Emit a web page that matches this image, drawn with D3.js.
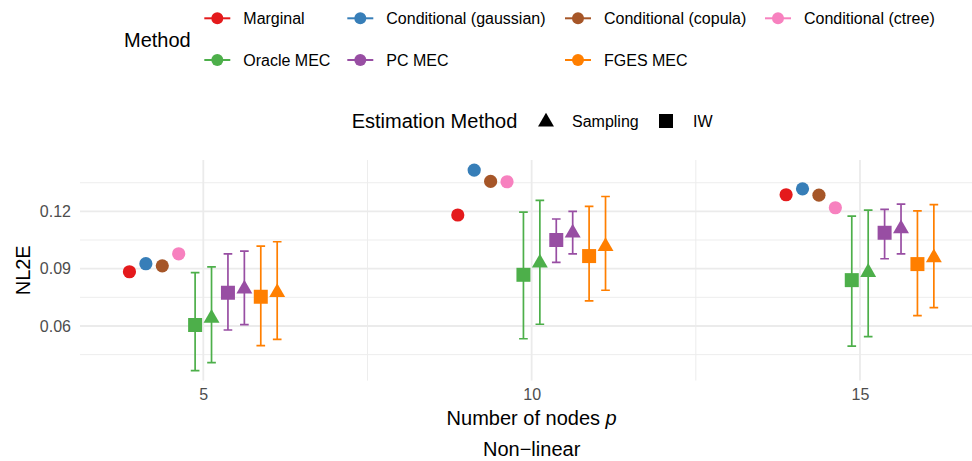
<!DOCTYPE html>
<html>
<head>
<meta charset="utf-8">
<script src="https://cdn.jsdelivr.net/npm/d3@7"></script>
<style>
  html, body { margin: 0; padding: 0; background: #fff; }
  svg { display: block; font-family: "Liberation Sans", Arial, Helvetica, sans-serif; }
</style>
</head>
<body>
<svg id="chart" width="972" height="461"></svg>
<script>
// Number of nodes p (one panel group per value)
const nodes = [5, 10, 15];

// Methods and their Set1 colours
const methods = ["Marginal", "Conditional (gaussian)", "Conditional (copula)", "Conditional (ctree)",
                 "Oracle MEC", "PC MEC", "FGES MEC"];
const colors = ["#E41A1C", "#377EB8", "#A65628", "#F781BF", "#4DAF4A", "#984EA3", "#FF7F00"];

// Point-only methods: NL2E per p
const marginal = [0.0884, 0.1181, 0.1287];
const condGaussian = [0.0926, 0.1416, 0.1318];
const condCopula = [0.0915, 0.1357, 0.1285];
const condCtree = [0.0978, 0.1355, 0.1219];

// MEC methods: mean NL2E with lower / upper interval, per p
const oracleIW = [0.0605, 0.0868, 0.0840];
const oracleIWLo = [0.0366, 0.0533, 0.0495];
const oracleIWHi = [0.0879, 0.1196, 0.1175];
const oracleSamp = [0.0641, 0.0930, 0.0881];
const oracleSampLo = [0.0408, 0.0609, 0.0544];
const oracleSampHi = [0.0909, 0.1258, 0.1207];

const pcIW = [0.0774, 0.1050, 0.1088];
const pcIWLo = [0.0579, 0.0933, 0.0952];
const pcIWHi = [0.0977, 0.1160, 0.1210];
const pcSamp = [0.0794, 0.1087, 0.1109];
const pcSampLo = [0.0607, 0.0977, 0.0977];
const pcSampHi = [0.0992, 0.1200, 0.1238];

const fgesIW = [0.0753, 0.0966, 0.0924];
const fgesIWLo = [0.0497, 0.0731, 0.0654];
const fgesIWHi = [0.1018, 0.1226, 0.1203];
const fgesSamp = [0.0776, 0.1017, 0.0958];
const fgesSampLo = [0.0530, 0.0787, 0.0696];
const fgesSampHi = [0.1041, 0.1278, 0.1235];

// Axis ticks
const yTicks = [0.06, 0.09, 0.12];
const yMinor = [0.045, 0.075, 0.105, 0.135];
const xMinor = [7.5, 12.5];

// Build a long table: one row per mark
const series = [
  { m: 0, est: null, v: marginal },
  { m: 1, est: null, v: condGaussian },
  { m: 2, est: null, v: condCopula },
  { m: 3, est: null, v: condCtree },
  { m: 4, est: "IW", v: oracleIW, lo: oracleIWLo, hi: oracleIWHi },
  { m: 4, est: "Sampling", v: oracleSamp, lo: oracleSampLo, hi: oracleSampHi },
  { m: 5, est: "IW", v: pcIW, lo: pcIWLo, hi: pcIWHi },
  { m: 5, est: "Sampling", v: pcSamp, lo: pcSampLo, hi: pcSampHi },
  { m: 6, est: "IW", v: fgesIW, lo: fgesIWLo, hi: fgesIWHi },
  { m: 6, est: "Sampling", v: fgesSamp, lo: fgesSampLo, hi: fgesSampHi }
];
const dodgeStep = 0.25;
const rows = [];
series.forEach((s, si) => {
  const off = (si - (series.length - 1) / 2) * dodgeStep;
  nodes.forEach((p, i) => {
    rows.push({
      p, x: p + off, y: s.v[i],
      lo: s.lo ? s.lo[i] : null, hi: s.hi ? s.hi[i] : null,
      color: colors[s.m], est: s.est
    });
  });
});

const svg = d3.select("#chart");

// Panel geometry
const panel = { left: 80, right: 983.3, top: 160, bottom: 380.6 };
const x = d3.scaleLinear().domain([3.122, 16.878]).range([panel.left, panel.right]);
const y = d3.scaleLinear().domain([0.0314, 0.1469]).range([panel.bottom, panel.top]);

const grid = svg.append("g");
// minor grid
grid.selectAll(".ymin").data(yMinor).join("line")
  .attr("x1", panel.left).attr("x2", panel.right)
  .attr("y1", d => y(d)).attr("y2", d => y(d))
  .attr("stroke", "#ededed").attr("stroke-width", 1);
grid.selectAll(".xmin").data(xMinor).join("line")
  .attr("y1", panel.top).attr("y2", panel.bottom)
  .attr("x1", d => x(d)).attr("x2", d => x(d))
  .attr("stroke", "#ededed").attr("stroke-width", 1);
// major grid
grid.selectAll(".ymaj").data(yTicks).join("line")
  .attr("x1", panel.left).attr("x2", panel.right)
  .attr("y1", d => y(d)).attr("y2", d => y(d))
  .attr("stroke", "#ebebeb").attr("stroke-width", 1.8);
grid.selectAll(".xmaj").data(nodes).join("line")
  .attr("y1", panel.top).attr("y2", panel.bottom)
  .attr("x1", d => x(d)).attr("x2", d => x(d))
  .attr("stroke", "#ebebeb").attr("stroke-width", 1.8);

// Axes (text only, no domain lines or tick marks)
const yAxis = svg.append("g").attr("transform", `translate(${panel.left - 9},0)`)
  .call(d3.axisLeft(y).tickValues(yTicks).tickSize(0).tickPadding(0).tickFormat(d3.format(".2f")));
yAxis.select(".domain").remove();
yAxis.selectAll("text").attr("fill", "#4d4d4d").attr("font-size", 16)
  .attr("font-family", "Liberation Sans, Arial, sans-serif");

const xAxis = svg.append("g").attr("transform", `translate(0,${panel.bottom + 8})`)
  .call(d3.axisBottom(x).tickValues(nodes).tickSize(0).tickPadding(0).tickFormat(d3.format("d")));
xAxis.select(".domain").remove();
xAxis.selectAll("text").attr("fill", "#4d4d4d").attr("font-size", 16)
  .attr("font-family", "Liberation Sans, Arial, sans-serif").attr("dy", "0.71em");

// Axis titles
const xMid = (panel.left + panel.right) / 2;
const xt = svg.append("text").attr("x", xMid).attr("y", 425).attr("text-anchor", "middle")
  .attr("font-size", 20).attr("fill", "#000");
xt.append("tspan").text("Number of nodes ");
xt.append("tspan").attr("font-style", "italic").text("p");
svg.append("text").attr("x", xMid).attr("y", 456).attr("text-anchor", "middle")
  .attr("font-size", 20).attr("fill", "#000").text("Non\u2212linear");
svg.append("text").attr("transform", `translate(30,${(panel.top + panel.bottom) / 2}) rotate(-90)`)
  .attr("text-anchor", "middle").attr("font-size", 20).attr("fill", "#000").text("NL2E");

// Marks
const plot = svg.append("g");
const capHalf = 0.066;
const eb = rows.filter(d => d.lo !== null);
plot.selectAll(".eb").data(eb).join("path")
  .attr("d", d => {
    const xl = x(d.x - capHalf), xr = x(d.x + capHalf), xc = x(d.x);
    return `M${xl},${y(d.hi)}H${xr}M${xc},${y(d.hi)}V${y(d.lo)}M${xl},${y(d.lo)}H${xr}`;
  })
  .attr("fill", "none").attr("stroke", d => d.color).attr("stroke-width", 1.7);

const circleR = 6.6, squareSide = 14, triR = 9.2;
function triPath(cx, cy, r) {
  const hx = r * Math.sqrt(3) / 2;
  return `M${cx},${cy - r}L${cx + hx},${cy + r / 2}L${cx - hx},${cy + r / 2}Z`;
}
plot.selectAll(".pt").data(rows).join("path")
  .attr("d", d => {
    const cx = x(d.x), cy = y(d.y);
    if (d.est === "IW") return `M${cx - squareSide / 2},${cy - squareSide / 2}h${squareSide}v${squareSide}h${-squareSide}Z`;
    if (d.est === "Sampling") return triPath(cx, cy, triR);
    return d3.symbol(d3.symbolCircle, Math.PI * circleR * circleR)();
  })
  .attr("transform", d => d.est === null ? `translate(${x(d.x)},${y(d.y)})` : null)
  .attr("fill", d => d.color);

// Method legend
const legM = svg.append("g");
legM.append("text").attr("x", 124).attr("y", 46.5).attr("font-size", 20).attr("fill", "#000").text("Method");
const colX = [217.3, 360.3, 578, 778];
const rowY = [18.3, 60];
const legendPos = [[0, 0], [1, 0], [2, 0], [3, 0], [0, 1], [1, 1], [2, 1]];
methods.forEach((name, i) => {
  const [c, r] = legendPos[i];
  const cx = colX[c], cy = rowY[r];
  const g = legM.append("g");
  g.append("line").attr("x1", cx - 13).attr("x2", cx + 13).attr("y1", cy).attr("y2", cy)
    .attr("stroke", colors[i]).attr("stroke-width", 2);
  g.append("circle").attr("cx", cx).attr("cy", cy).attr("r", 6).attr("fill", colors[i]);
  g.append("text").attr("x", cx + 26).attr("y", cy + 5.7).attr("font-size", 16).attr("fill", "#000").text(name);
});

// Estimation method legend
const legE = svg.append("g");
const eY = 121;
legE.append("text").attr("x", 351.7).attr("y", eY + 7).attr("font-size", 20).attr("fill", "#000").text("Estimation Method");
legE.append("path").attr("d", triPath(546, eY + 1, triR)).attr("fill", "#000");
legE.append("text").attr("x", 572).attr("y", eY + 5.7).attr("font-size", 16).attr("fill", "#000").text("Sampling");
legE.append("rect").attr("x", 666 - squareSide / 2).attr("y", eY - squareSide / 2)
  .attr("width", squareSide).attr("height", squareSide).attr("fill", "#000");
legE.append("text").attr("x", 693).attr("y", eY + 5.7).attr("font-size", 16).attr("fill", "#000").text("IW");
</script>
</body>
</html>
